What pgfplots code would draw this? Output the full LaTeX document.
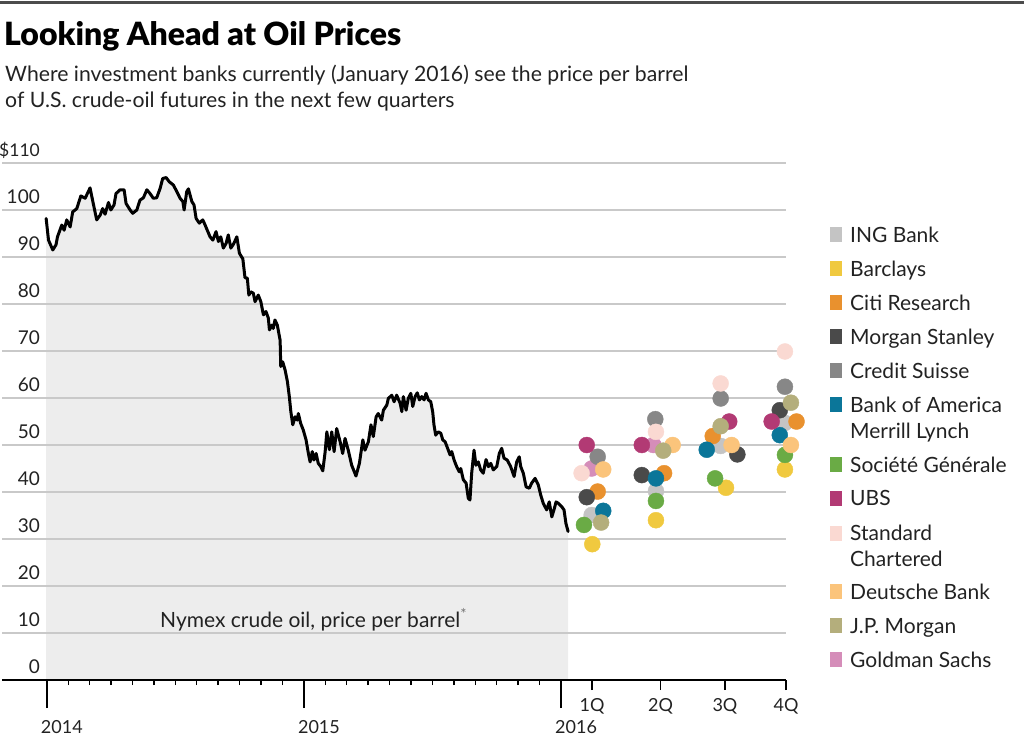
\documentclass[border=0pt]{standalone}
\usepackage{pgfplots}
\usepackage{pgfplotstable}
\pgfplotsset{compat=1.18}
\usepackage{fontspec}
\setmainfont{Lato}
\newfontfamily\titlefont{Lato Black}
\definecolor{cING}{HTML}{C4C4C4}
\definecolor{cBarc}{HTML}{F0C93F}
\definecolor{cCiti}{HTML}{E9912E}
\definecolor{cMS}{HTML}{4A4A4A}
\definecolor{cCS}{HTML}{878787}
\definecolor{cBofA}{HTML}{0B7699}
\definecolor{cSG}{HTML}{6AAB45}
\definecolor{cUBS}{HTML}{B23A74}
\definecolor{cSC}{HTML}{FAD9D2}
\definecolor{cDB}{HTML}{FBC47B}
\definecolor{cJPM}{HTML}{B4AE7C}
\definecolor{cGS}{HTML}{D58DB9}
\definecolor{shade}{HTML}{EDEDED}
\definecolor{gridc}{HTML}{C9C9C9}
\definecolor{txt}{HTML}{222222}

% x = months since January 2014, y = dollars per barrel
\pgfplotstableread{
x y
-0.03 98.2
0.08 93.6
0.28 91.5
0.43 92.6
0.50 94.3
0.70 96.8
0.81 95.7
0.93 97.9
1.09 96.4
1.21 99.6
1.40 100.3
1.59 103.0
1.79 102.5
2.02 104.7
2.15 101.8
2.33 97.9
2.49 98.9
2.61 100.3
2.72 99.1
2.88 101.6
2.99 100.0
3.14 101.1
3.23 103.5
3.42 104.3
3.61 104.3
3.70 101.4
3.89 100.0
4.01 99.3
4.20 100.0
4.35 102.1
4.51 102.6
4.67 104.3
4.82 103.5
4.97 102.5
5.13 102.6
5.29 104.6
5.41 106.7
5.57 106.9
5.72 106.0
5.91 105.3
6.07 103.9
6.22 102.5
6.35 101.8
6.41 100.0
6.53 103.9
6.61 104.5
6.77 101.8
6.87 101.1
6.97 98.2
7.12 97.2
7.28 97.9
7.39 96.8
7.49 95.7
7.62 94.3
7.75 93.6
7.90 95.4
8.01 93.3
8.12 94.3
8.24 91.9
8.37 92.9
8.47 94.7
8.59 91.9
8.71 92.7
8.87 94.3
8.99 90.8
9.15 89.6
9.25 85.6
9.36 85.5
9.43 81.9
9.52 82.6
9.64 82.3
9.72 80.5
9.87 81.9
9.99 80.5
10.11 77.7
10.23 78.4
10.34 77.0
10.39 74.5
10.50 75.5
10.57 74.8
10.65 76.6
10.76 75.5
10.89 72.3
10.92 66.7
11.01 67.7
11.12 66.0
11.23 63.5
11.32 60.3
11.39 57.1
11.48 54.3
11.59 56.0
11.69 55.3
11.74 56.7
11.85 54.6
11.97 53.2
12.10 51.1
12.21 48.2
12.29 46.4
12.39 48.6
12.47 46.8
12.57 48.2
12.67 46.1
12.79 45.4
12.88 44.5
12.99 48.5
13.07 52.8
13.19 49.0
13.30 52.8
13.41 48.6
13.53 53.5
13.69 50.7
13.81 48.2
13.92 51.4
14.07 48.9
14.23 45.7
14.43 43.4
14.59 46.1
14.75 51.1
14.85 48.9
15.01 50.7
15.13 54.3
15.24 51.8
15.37 56.0
15.47 56.7
15.63 55.3
15.71 57.4
15.87 58.5
15.94 59.9
16.10 60.6
16.21 59.2
16.33 60.6
16.49 58.9
16.57 57.1
16.64 60.3
16.77 57.4
16.87 59.9
16.99 61.0
17.08 58.2
17.19 60.3
17.29 61.1
17.39 59.6
17.50 60.3
17.61 59.6
17.70 61.0
17.81 59.6
17.92 59.2
18.01 57.1
18.07 54.3
18.15 52.1
18.27 52.8
18.39 52.5
18.48 51.1
18.59 50.7
18.74 48.9
18.82 47.9
18.90 48.6
19.01 46.8
19.13 45.4
19.25 44.3
19.32 45.0
19.44 42.6
19.57 41.9
19.67 38.7
19.75 38.3
19.83 44.0
19.94 48.9
20.03 45.7
20.14 46.4
20.25 44.7
20.37 44.0
20.50 46.9
20.61 45.4
20.72 46.1
20.84 44.7
21.00 45.4
21.12 48.2
21.23 49.3
21.34 47.2
21.49 46.8
21.65 45.4
21.81 43.3
21.93 46.4
22.05 47.5
22.12 45.4
22.24 44.0
22.37 41.1
22.52 40.8
22.63 41.9
22.79 42.9
22.94 41.5
23.05 39.4
23.17 37.6
23.33 36.2
23.45 37.9
23.57 34.7
23.67 36.2
23.77 37.9
23.87 37.6
24.03 36.9
24.14 36.2
24.23 33.3
24.33 31.6
}\oil

\begin{document}
\begin{tikzpicture}[font=\color{txt}]
\fill[black!70] (0,-1pt) rectangle (1024pt,-3.5pt);
\node[anchor=base west, inner sep=0pt] at (4pt,-45pt)
  {\titlefont\fontsize{32}{36}\selectfont\color{black}Looking Ahead at Oil Prices};
\node[anchor=base west, inner sep=0pt] at (5pt,-81pt)
  {\fontsize{21.2}{24}\selectfont Where investment banks currently (January 2016) see the price per barrel};
\node[anchor=base west, inner sep=0pt] at (5pt,-107.5pt)
  {\fontsize{21.2}{24}\selectfont of U.S. crude-oil futures in the next few quarters};

\begin{axis}[
  at={(2pt,-680pt)}, anchor=south west,
  scale only axis, width=784pt, height=517pt,
  xmin=-2.09, xmax=34.5, ymin=0, ymax=110,
  clip=false, set layers,
  axis x line*=bottom, axis y line*=left,
  x axis line style={black, line width=1.8pt},
  y axis line style={draw=none},
  ytick={10,20,30,40,50,60,70,80,90,100,110},
  yticklabels={},
  ytick style={draw=none},
  ymajorgrids,
  grid style={gridc, line width=1.5pt},
  xtick={0,12,24}, xticklabels={},
  minor xtick={1,2,3,4,5,6,7,8,9,10,11,13,14,15,16,17,18,19,20,21,22,23},
  tick align=outside,
  major tick length=28pt, minor tick length=5pt,
  major tick style={black, line width=2pt},
  minor tick style={black, line width=1.4pt},
  extra x ticks={25.45,28.65,31.65,34.5},
  extra x tick labels={},
  extra x tick style={major tick length=10pt, major tick style={black, line width=1.4pt}},
  mark size=8pt,
]
\addplot[fill=shade, draw=none, on layer=axis background] table[x=x,y=y] {\oil} \closedcycle;
\addplot[black, line width=3pt, line join=round, line cap=round] table[x=x,y=y] {\oil};

% forecasts: Goldman first (it sits beneath the others)
\addplot[only marks, mark=*, color=cGS] coordinates {(25.43,45.0) (28.31,50.0)};
\addplot[only marks, mark=*, color=cING] coordinates {(25.43,35.1) (28.43,40.2) (31.45,49.8) (34.45,54.7)};
\addplot[only marks, mark=*, color=cBarc] coordinates {(25.46,28.9) (28.43,34.0) (31.70,40.9) (34.45,44.8)};
\addplot[only marks, mark=*, color=cCiti] coordinates {(25.71,40.1) (28.81,44.0) (31.08,51.9) (34.99,55.0)};
\addplot[only marks, mark=*, color=cMS] coordinates {(25.20,38.9) (27.77,43.6) (32.23,48.0) (34.21,57.4)};
\addplot[only marks, mark=*, color=cCS] coordinates {(25.71,47.5) (28.40,55.5) (31.45,59.9) (34.45,62.4)};
\addplot[only marks, mark=*, color=cBofA] coordinates {(25.97,36.0) (28.43,42.9) (30.80,49.0) (34.21,52.1)};
\addplot[only marks, mark=*, color=cSG] coordinates {(25.07,33.0) (28.43,38.1) (31.19,42.9) (34.45,47.9)};
\addplot[only marks, mark=*, color=cUBS] coordinates {(25.20,50.0) (27.77,50.0) (31.85,55.0) (33.83,55.0)};
\addplot[only marks, mark=*, color=cSC] coordinates {(24.96,44.0) (28.43,52.8) (31.45,63.1) (34.45,69.9)};
\addplot[only marks, mark=*, color=cDB] coordinates {(25.97,44.8) (29.21,50.0) (31.96,50.0) (34.73,50.0)};
\addplot[only marks, mark=*, color=cJPM] coordinates {(25.87,33.5) (28.77,48.8) (31.45,54.0) (34.73,59.0)};

% tick labels
\pgfplotsinvokeforeach{0,10,20,30,40,50,60,70,80,90,100}{
  \node[anchor=base east, inner sep=0pt, xshift=38pt, yshift=6.5pt, font=\fontsize{19}{21}\selectfont\color{txt}] at (axis cs:-2.09,#1) {#1};
}
\node[anchor=base east, inner sep=0pt, xshift=38pt, yshift=6.5pt, font=\fontsize{17.5}{21}\selectfont\color{txt}] at (axis cs:-2.09,110) {\$110};
\node[anchor=base west, inner sep=0pt, xshift=-6pt, yshift=-53pt, font=\fontsize{18}{20}\selectfont\color{txt}] at (axis cs:0,0) {2014};
\node[anchor=base west, inner sep=0pt, xshift=-6pt, yshift=-53pt, font=\fontsize{18}{20}\selectfont\color{txt}] at (axis cs:12,0) {2015};
\node[anchor=base west, inner sep=0pt, xshift=-6pt, yshift=-53pt, font=\fontsize{18}{20}\selectfont\color{txt}] at (axis cs:24,0) {2016};
\node[anchor=base, inner sep=0pt, yshift=-31pt, font=\fontsize{18}{20}\selectfont\color{txt}] at (axis cs:25.45,0) {1Q};
\node[anchor=base, inner sep=0pt, yshift=-31pt, font=\fontsize{18}{20}\selectfont\color{txt}] at (axis cs:28.65,0) {2Q};
\node[anchor=base, inner sep=0pt, yshift=-31pt, font=\fontsize{18}{20}\selectfont\color{txt}] at (axis cs:31.65,0) {3Q};
\node[anchor=base, inner sep=0pt, yshift=-31pt, font=\fontsize{18}{20}\selectfont\color{txt}] at (axis cs:34.5,0) {4Q};
\end{axis}

\node[anchor=base west, inner sep=0pt, font=\fontsize{21}{25}\selectfont\color{txt}] at (160pt,-627pt)
  {Nymex crude oil, price per barrel\textsuperscript{\color{black!55}*}};

% legend
\foreach \c/\b/\t in {cING/242.3/ING Bank, cBarc/276/Barclays, cCiti/310/Citi Research,
  cMS/344/Morgan Stanley, cCS/378.3/Credit Suisse, cBofA/412.3/Bank of America,
  cSG/472.3/Société Générale, cUBS/505.7/UBS, cSC/540.7/Standard,
  cDB/599.3/Deutsche Bank, cJPM/633.3/J.P. Morgan, cGS/667.3/Goldman Sachs}{
  \fill[\c] (829.5pt,{-\b*1pt}) rectangle (842pt,{(15-\b)*1pt});
  \node[anchor=base west, inner sep=0pt, font=\fontsize{21}{25}\selectfont\color{txt}] at (850pt,{-\b*1pt}) {\t};
}
\node[anchor=base west, inner sep=0pt, font=\fontsize{21}{25}\selectfont\color{txt}] at (850pt,-438.3pt) {Merrill Lynch};
\node[anchor=base west, inner sep=0pt, font=\fontsize{21}{25}\selectfont\color{txt}] at (850pt,-566pt) {Chartered};

\pgfresetboundingbox
\path[use as bounding box] (0,0) rectangle (1024pt,-742pt);
\end{tikzpicture}
\end{document}
